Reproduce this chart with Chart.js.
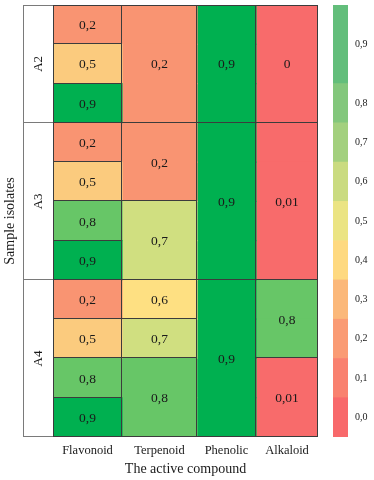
<!DOCTYPE html>
<html>
<head>
<meta charset="utf-8">
<script src="https://cdn.jsdelivr.net/npm/chart.js@4.4.1/dist/chart.umd.min.js"></script>
<style>
  html, body { margin: 0; padding: 0; background: #fff; }
  .box { position: absolute; top: 0; }
</style>
</head>
<body>
<div class="box" style="left:0;width:374px;height:480px"><canvas id="heat"></canvas></div>
<div class="box" style="left:320px;width:54px;height:480px"><canvas id="legend"></canvas></div>
<script>
// categories
const compounds = ['Flavonoid', 'Terpenoid', 'Phenolic', 'Alkaloid'];
const isolates = ['A2', 'A3', 'A4'];
const isolateRows = [3, 4, 4];

// cell values per column, top to bottom, with merged row spans
const flavonoid = [0.2, 0.5, 0.9, 0.2, 0.5, 0.8, 0.9, 0.2, 0.5, 0.8, 0.9];
const flavonoidSpan = [1, 1, 1, 1, 1, 1, 1, 1, 1, 1, 1];
const terpenoid = [0.2, 0.2, 0.7, 0.6, 0.7, 0.8];
const terpenoidSpan = [3, 2, 2, 1, 1, 2];
const phenolic = [0.9, 0.9, 0.9];
const phenolicSpan = [3, 4, 4];
const alkaloid = [0, 0.01, 0.8, 0.01];
const alkaloidSpan = [3, 4, 2, 2];

// colour scale labels
const scaleLabels = ['0,0', '0,1', '0,2', '0,3', '0,4', '0,5', '0,6', '0,7', '0,8', '0,9'];
const scaleSpan = [1, 1, 1, 1, 1, 1, 1, 1, 1, 2];

// layout / style
const colWidths = [69, 75, 59, 62];
const scaleColors = ['#F8696B', '#F9816F', '#FA9B74', '#FBB87A', '#FED980', '#EBE483', '#CADB80', '#A3D07E', '#83C77C', '#63BE7B'];
const serif = '"Liberation Serif", "Times New Roman", serif';

function cellColor(v) {
  if (v < 0.1) return '#F86B6B';
  if (v < 0.3) return '#F99472';
  if (v < 0.55) return '#FBCB7E';
  if (v < 0.65) return '#FEE082';
  if (v < 0.75) return '#D0DF80';
  if (v < 0.85) return '#67C667';
  return '#00B050';
}
const fmt = (v) => String(v).replace('.', ',');

const totalRows = isolateRows.reduce((a, b) => a + b, 0);
const rowIds = Array.from({ length: totalRows }, (_, i) => String(i));

function expand(values, spans) {
  const rowVal = [], cells = [];
  let r = 0;
  values.forEach((v, i) => {
    cells.push({ v, start: r, end: r + spans[i] - 1 });
    for (let k = 0; k < spans[i]; k++) rowVal.push(v);
    r += spans[i];
  });
  return { rowVal, cells };
}

const columns = [
  expand(flavonoid, flavonoidSpan),
  expand(terpenoid, terpenoidSpan),
  expand(phenolic, phenolicSpan),
  expand(alkaloid, alkaloidSpan)
];
const colStart = colWidths.map((w, i) => colWidths.slice(0, i).reduce((a, b) => a + b, 0));
const colTotal = colWidths.reduce((a, b) => a + b, 0);

// pixel edge below a row (between row and the next one)
function rowEdge(y, area, row) {
  if (row < 0) return area.top;
  if (row >= totalRows - 1) return area.bottom;
  return (y.getPixelForValue(row) + y.getPixelForValue(row + 1)) / 2;
}
const crisp = (p) => Math.round(p) - 0.5;

const cellText = {
  id: 'cellText',
  afterDatasetsDraw(chart) {
    const { ctx, chartArea } = chart;
    const x = chart.scales.x, y = chart.scales.y;
    ctx.save();

    // cell borders (merged cells have no inner lines)
    ctx.strokeStyle = '#3c3c3c';
    ctx.lineWidth = 1;
    ctx.beginPath();
    columns.forEach((col, c) => {
      const x0 = crisp(x.getPixelForValue(colStart[c])) + (c === 0 ? 1 : 0);
      const x1 = crisp(x.getPixelForValue(colStart[c] + colWidths[c]));
      ctx.moveTo(x0, chartArea.top);
      ctx.lineTo(x0, chartArea.bottom);
      ctx.moveTo(x1, chartArea.top);
      ctx.lineTo(x1, chartArea.bottom);
      col.cells.forEach((cell) => {
        const yy = crisp(rowEdge(y, chartArea, cell.end));
        ctx.moveTo(x0, yy);
        ctx.lineTo(x1, yy);
      });
    });
    ctx.moveTo(chartArea.left, crisp(chartArea.top) + 1);
    ctx.lineTo(chartArea.right, crisp(chartArea.top) + 1);
    ctx.stroke();

    ctx.fillStyle = '#1a1a1a';
    ctx.textAlign = 'center';
    ctx.textBaseline = 'middle';
    ctx.font = '13.5px ' + serif;
    columns.forEach((col, c) => {
      const cx = x.getPixelForValue(colStart[c] + colWidths[c] / 2);
      col.cells.forEach((cell) => {
        const cy = (y.getPixelForValue(cell.start) + y.getPixelForValue(cell.end)) / 2;
        ctx.fillText(fmt(cell.v), cx, cy + 1);
      });
    });

    // isolate group column
    const left = chartArea.left - 30;
    ctx.strokeStyle = '#7a7a7a';
    ctx.beginPath();
    ctx.moveTo(left + 0.5, chartArea.top);
    ctx.lineTo(left + 0.5, chartArea.bottom);
    ctx.moveTo(left, crisp(chartArea.top) + 1);
    ctx.lineTo(chartArea.left, crisp(chartArea.top) + 1);
    let r = 0;
    ctx.font = '13px ' + serif;
    isolates.forEach((name, g) => {
      const first = r, last = r + isolateRows[g] - 1;
      const yy = crisp(rowEdge(y, chartArea, last));
      ctx.moveTo(left, yy);
      ctx.lineTo(chartArea.left, yy);
      const cy = (y.getPixelForValue(first) + y.getPixelForValue(last)) / 2;
      ctx.save();
      ctx.translate(left + 16, cy);
      ctx.rotate(-Math.PI / 2);
      ctx.fillText(name, 0, 0);
      ctx.restore();
      r += isolateRows[g];
    });
    ctx.stroke();
    ctx.restore();
  }
};

new Chart(document.getElementById('heat'), {
  type: 'bar',
  data: {
    labels: rowIds,
    datasets: compounds.map((name, c) => ({
      label: name,
      data: rowIds.map(() => colWidths[c]),
      backgroundColor: (ctx) => cellColor(columns[c].rowVal[ctx.dataIndex]),
      borderWidth: 0,
      inflateAmount: 0.6,
      barPercentage: 1,
      categoryPercentage: 1
    }))
  },
  options: {
    indexAxis: 'y',
    responsive: true,
    maintainAspectRatio: false,
    animation: false,
    layout: { padding: { left: 2, top: 5, right: 56, bottom: 0 } },
    plugins: { legend: { display: false }, tooltip: { enabled: false } },
    scales: {
      x: {
        type: 'linear',
        stacked: true,
        min: 0,
        max: colTotal,
        grid: { display: false, drawTicks: false },
        border: { display: false },
        afterFit: (s) => { s.height = 43; },
        afterBuildTicks: (axis) => {
          axis.ticks = colStart.map((s, i) => ({ value: s + colWidths[i] / 2 }));
        },
        ticks: {
          autoSkip: false,
          maxRotation: 0,
          padding: 6,
          color: '#1a1a1a',
          font: { family: serif, size: 12.5 },
          callback: (v, i) => compounds[i]
        },
        title: {
          display: true,
          text: 'The active compound',
          color: '#1a1a1a',
          font: { family: serif, size: 14 },
          padding: { top: 1, bottom: 2 }
        }
      },
      y: {
        stacked: true,
        grid: { display: false, drawTicks: false },
        border: { display: false },
        ticks: { display: false },
        afterFit: (s) => { s.width = 51; },
        title: {
          display: true,
          text: 'Sample isolates',
          color: '#1a1a1a',
          font: { family: serif, size: 14 },
          padding: { top: 0, bottom: 0 }
        }
      }
    }
  },
  plugins: [cellText]
});

const scaleStart = scaleSpan.map((s, i) => scaleSpan.slice(0, i).reduce((a, b) => a + b, 0));
const scaleTotal = scaleSpan.reduce((a, b) => a + b, 0);

new Chart(document.getElementById('legend'), {
  type: 'bar',
  data: {
    labels: ['scale'],
    datasets: scaleLabels.map((lab, i) => ({
      label: lab,
      data: [scaleSpan[i]],
      backgroundColor: scaleColors[i],
      borderWidth: 0,
      barPercentage: 1,
      categoryPercentage: 1
    }))
  },
  options: {
    responsive: true,
    maintainAspectRatio: false,
    animation: false,
    layout: { padding: { left: 13, top: 5, right: 0, bottom: 43 } },
    plugins: { legend: { display: false }, tooltip: { enabled: false } },
    scales: {
      x: { stacked: true, display: false },
      y: {
        stacked: true,
        position: 'right',
        min: 0,
        max: scaleTotal,
        grid: { display: false, drawTicks: false },
        border: { display: false },
        afterFit: (s) => { s.width = 26; s.paddingTop = 0; s.paddingBottom = 0; },
        afterBuildTicks: (axis) => {
          axis.ticks = scaleStart.map((s, i) => ({ value: s + scaleSpan[i] / 2 }));
        },
        ticks: {
          autoSkip: false,
          padding: 7,
          color: '#1a1a1a',
          font: { family: serif, size: 10 },
          callback: (v, i) => scaleLabels[i]
        }
      }
    }
  }
});
</script>
</body>
</html>
